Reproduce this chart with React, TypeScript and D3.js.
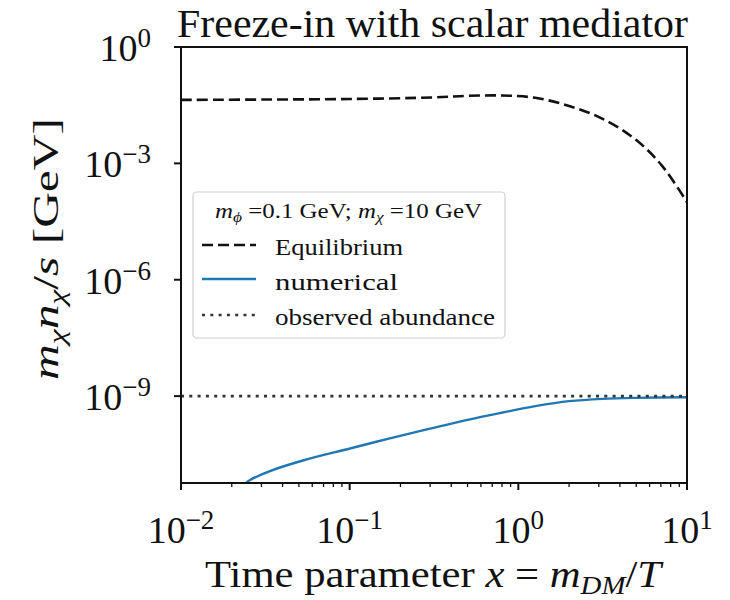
import React from "react";
import * as d3 from "d3";

// Equilibrium abundance m_chi n_chi^eq / s versus x = m_DM / T
const eqX = [0.01, 0.0316, 0.1, 0.316, 0.5, 0.8, 1.26, 2.0, 3.16, 5.0, 7.08, 10];
const eqY = [0.0433, 0.0442, 0.0457, 0.0501, 0.055, 0.0562, 0.049, 0.0302, 0.0141, 0.00398, 0.00089, 0.0001];

// Numerical solution of the freeze-in Boltzmann equation
const numX = [0.0224, 0.02565, 0.0337, 0.0528, 0.1005, 0.173, 0.299, 0.5, 0.794, 1.26, 2.0, 3.16, 5.0, 10];
const numY = [4.27e-12, 6.84e-12, 1.17e-11, 2.19e-11, 4.47e-11, 8.13e-11, 1.45e-10, 2.45e-10, 3.72e-10, 5.5e-10, 7.41e-10, 8.51e-10, 9.02e-10, 9.33e-10];

// Observed relic abundance
const observed = 1e-9;

const xTickExps = [-2, -1, 0, 1];
const yTickExps = [0, -3, -6, -9];

const W = 730;
const H = 600;
const left = 181;
const right = 687;
const top = 47;
const bottom = 483;

const FONT = "'Liberation Serif', 'DejaVu Serif', serif";
const BLUE = "#1f77b4";

export default function App() {
  const x = d3.scaleLog().domain([0.01, 10]).range([left, right]);
  const y = d3.scaleLog().domain([Math.pow(10, -11.24), 1]).range([bottom, top]);

  const line = d3
    .line<[number, number]>()
    .x((d) => x(d[0]))
    .y((d) => y(d[1]))
    .curve(d3.curveCatmullRom.alpha(0.5));

  const eqPath = line(eqX.map((v, i) => [v, eqY[i]] as [number, number])) || "";
  const numPath = line(numX.map((v, i) => [v, numY[i]] as [number, number])) || "";

  const minorTicks: number[] = [];
  for (let e = -2; e < 1; e++) {
    for (let k = 2; k <= 9; k++) minorTicks.push(k * Math.pow(10, e));
  }

  const tickFs = 38;
  const supFs = 27;

  return (
    <svg
      width={W}
      height={H}
      style={{ position: "absolute", left: 0, top: 0, background: "#fff" }}
      fontFamily={FONT}
    >
      <defs>
        <clipPath id="plotClip">
          <rect x={left} y={top} width={right - left} height={bottom - top} />
        </clipPath>
      </defs>

      {/* Title */}
      <text
        x={177}
        y={37}
        fontSize={40}
        fill="#111"
        textLength={511}
        lengthAdjust="spacingAndGlyphs"
      >
        Freeze-in with scalar mediator
      </text>

      {/* Curves */}
      <g clipPath="url(#plotClip)">
        <path d={eqPath} fill="none" stroke="#111" strokeWidth={2.6} strokeDasharray="11,5" />
        <path d={numPath} fill="none" stroke={BLUE} strokeWidth={2.4} />
        <line
          x1={left}
          x2={right}
          y1={y(observed)}
          y2={y(observed)}
          stroke="#333"
          strokeWidth={2.6}
          strokeDasharray="3,5.3"
        />
      </g>

      {/* Frame */}
      <rect x={left} y={top} width={right - left} height={bottom - top} fill="none" stroke="#111" strokeWidth={2} />

      {/* X ticks */}
      {minorTicks.map((v) => (
        <line key={"mx" + v} x1={x(v)} x2={x(v)} y1={bottom} y2={bottom + 4} stroke="#111" strokeWidth={1.3} />
      ))}
      {xTickExps.map((e) => {
        const px = x(Math.pow(10, e));
        return (
          <g key={"xt" + e}>
            <line x1={px} x2={px} y1={bottom} y2={bottom + 7} stroke="#111" strokeWidth={2} />
            <text x={px} y={543} fontSize={tickFs} textAnchor="middle" fill="#111">
              10
              <tspan fontSize={supFs} dy={-14}>
                {e < 0 ? "\u2212" + Math.abs(e) : String(e)}
              </tspan>
            </text>
          </g>
        );
      })}

      {/* Y ticks */}
      {yTickExps.map((e) => {
        const py = y(Math.pow(10, e));
        return (
          <g key={"yt" + e}>
            <line x1={left - 7} x2={left} y1={py} y2={py} stroke="#111" strokeWidth={2} />
            <text x={151} y={py + 14} fontSize={tickFs} textAnchor="end" fill="#111">
              10
              <tspan fontSize={supFs} dy={-14}>
                {e < 0 ? "\u2212" + Math.abs(e) : String(e)}
              </tspan>
            </text>
          </g>
        );
      })}

      {/* X axis label */}
      <text
        x={205}
        y={587}
        fontSize={37}
        fill="#111"
        textLength={456}
        lengthAdjust="spacingAndGlyphs"
      >
        Time parameter <tspan fontStyle="italic">x</tspan> = <tspan fontStyle="italic">m</tspan>
        <tspan fontStyle="italic" fontSize={25} dy={7}>
          DM
        </tspan>
        <tspan dy={-7}>/</tspan>
        <tspan fontStyle="italic">T</tspan>
      </text>

      {/* Y axis label */}
      <text
        transform="translate(58,380) rotate(-90)"
        fontSize={35}
        fill="#111"
        textLength={262}
        lengthAdjust="spacingAndGlyphs"
      >
        <tspan fontStyle="italic">m</tspan>
        <tspan fontStyle="italic" fontSize={24} dy={7}>
          χ
        </tspan>
        <tspan fontStyle="italic" dy={-7}>
          n
        </tspan>
        <tspan fontStyle="italic" fontSize={24} dy={7}>
          χ
        </tspan>
        <tspan dy={-7}>/</tspan>
        <tspan fontStyle="italic">s</tspan> [GeV]
      </text>

      {/* Legend */}
      <g>
        <rect x={193} y={192} width={312} height={146} rx={4} fill="#fff" stroke="#d0d0d0" strokeWidth={1.2} />
        <text x={215} y={218} fontSize={20} fill="#111" textLength={267} lengthAdjust="spacingAndGlyphs">
          <tspan fontStyle="italic">m</tspan>
          <tspan fontStyle="italic" fontSize={14} dy={4}>
            ϕ
          </tspan>
          <tspan dy={-4}> =0.1 GeV; </tspan>
          <tspan fontStyle="italic">m</tspan>
          <tspan fontStyle="italic" fontSize={14} dy={4}>
            χ
          </tspan>
          <tspan dy={-4}> =10 GeV</tspan>
        </text>
        <line x1={202} x2={256} y1={245} y2={245} stroke="#111" strokeWidth={2.6} strokeDasharray="11,5" />
        <text x={275} y={255} fontSize={23} fill="#111" textLength={128} lengthAdjust="spacingAndGlyphs">
          Equilibrium
        </text>
        <line x1={202} x2={256} y1={279} y2={279} stroke={BLUE} strokeWidth={2.4} />
        <text x={275} y={290} fontSize={23} fill="#111" textLength={123} lengthAdjust="spacingAndGlyphs">
          numerical
        </text>
        <line x1={202} x2={256} y1={315} y2={315} stroke="#333" strokeWidth={2.6} strokeDasharray="3,5.3" />
        <text x={275} y={325} fontSize={23} fill="#111" textLength={220} lengthAdjust="spacingAndGlyphs">
          observed abundance
        </text>
      </g>
    </svg>
  );
}
